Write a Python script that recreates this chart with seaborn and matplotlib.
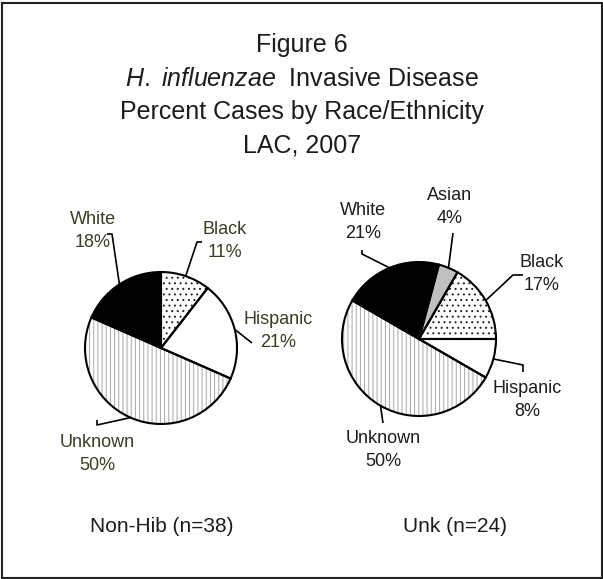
import numpy as np
import matplotlib
matplotlib.use("Agg")
import matplotlib.pyplot as plt
from matplotlib.patches import Rectangle
import seaborn as sns

# data
left_races = ["Black", "Hispanic", "Unknown", "White"]
left_counts = [4, 8, 19, 7]          # Non-Hib, n=38
right_races = ["Asian", "Black", "Hispanic", "Unknown", "White"]
right_counts = [1, 4, 2, 12, 5]      # Unk, n=24
left_title = "Non-Hib (n=38)"
right_title = "Unk (n=24)"
title_lines = ["Figure 6",
               r"$\mathit{H.\ influenzae}$  Invasive Disease",
               "Percent Cases by Race/Ethnicity",
               "LAC, 2007"]

sns.set_theme(style="white")
plt.rcParams["font.family"] = ["Liberation Sans", "DejaVu Sans"]
plt.rcParams["mathtext.fontset"] = "custom"
plt.rcParams["mathtext.rm"] = "Liberation Sans"
plt.rcParams["mathtext.it"] = "Liberation Sans:italic"
plt.rcParams["hatch.linewidth"] = 0.7

W, H = 603, 579
fig = plt.figure(figsize=(W / 100, H / 100), dpi=100)
ax = fig.add_axes([0, 0, 1, 1])

# fill / hatch per race
fills = {"Asian": ("#c0c0c0", None, "#c0c0c0"),
         "Black": ("white", "...", "#222222"),
         "Hispanic": ("white", None, "white"),
         "Unknown": ("white", "||||", "#a8a8a8"),
         "White": ("black", None, "black")}


def draw_pie(races, counts, center, radius, start, text_pos, leaders, tcolor):
    cx, cy = center
    c = (cx, H - cy)
    wedges, _ = ax.pie(counts, center=c, radius=radius, startangle=start,
                       counterclock=False, colors=[fills[r][0] for r in races],
                       wedgeprops=dict(linewidth=0))
    for w, r in zip(wedges, races):
        face, hatch, hcol = fills[r]
        w.set_edgecolor(hcol)
        w.set_linewidth(0)
        if hatch:
            w.set_hatch(hatch)
    # outlines on top
    ax.pie(counts, center=c, radius=radius, startangle=start, counterclock=False,
           wedgeprops=dict(fill=False, edgecolor="black", linewidth=1.5))
    total = sum(counts)
    for w, r, n, tp, pts in zip(wedges, races, counts, text_pos, leaders):
        mid = np.deg2rad((w.theta1 + w.theta2) / 2)
        ax_pt = (c[0] + radius * np.cos(mid), c[1] + radius * np.sin(mid))
        xs = [ax_pt[0]] + [p[0] for p in pts]
        ys = [ax_pt[1]] + [H - p[1] for p in pts]
        ax.plot(xs, ys, color="black", lw=1.2, solid_capstyle="butt")
        ax.text(tp[0], H - tp[1], f"{r}\n{round(100 * n / total)}%",
                ha="center", va="center", fontsize=13, color=tcolor,
                linespacing=1.5)


draw_pie(left_races, left_counts, (161, 348), 76, 90,
         [(225, 241), (278, 331), (97, 454), (93, 231)],
         [[(197, 242), (202, 242)], [(252, 343)], [(97, 425), (97, 420)],
          [(112, 234), (107, 234)]],
         "#3c3c22")
draw_pie(right_races, right_counts, (419, 339), 77, 75,
         [(450, 207), (542, 274), (527, 400), (383, 450), (363, 222)],
         [[(453, 233)], [(513, 275), (523, 275)], [(523, 365), (523, 372)],
          [(383, 423)], [(362, 254), (362, 250)]],
         "#1c1c1c")

for s, y in zip(title_lines, [45, 79, 112, 146]):
    ax.text(302, H - y, s, ha="center", va="center", fontsize=18, color="#1c1c1c")

ax.text(162, H - 527, left_title, ha="center", va="center", fontsize=15, color="#1c1c1c")
ax.text(455, H - 527, right_title, ha="center", va="center", fontsize=15, color="#1c1c1c")

ax.add_patch(Rectangle((1.5, 1.5), W - 3, H - 4, fill=False, edgecolor="#222222", lw=1.5))

ax.set_xlim(0, W)
ax.set_ylim(0, H)
ax.set_aspect("auto")
ax.axis("off")
fig.savefig("out.png", dpi=100)
